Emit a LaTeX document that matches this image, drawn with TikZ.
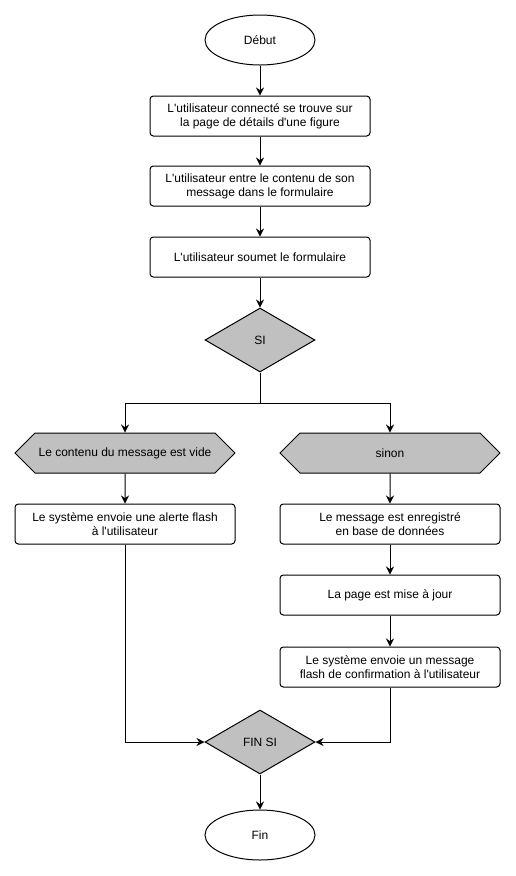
\documentclass[tikz,border=0pt]{standalone}
\usepackage{fontspec}
\setmainfont{Liberation Sans}[Ligatures=TeXOff]
\usetikzlibrary{shapes.geometric,shapes.symbols,arrows.meta}
\definecolor{grayfill}{HTML}{C0C0C0}
\tikzset{
  base/.style={draw=black, line width=0.75pt, font=\fontsize{9}{10.5}\selectfont, align=center, inner sep=0pt},
  term/.style={base, ellipse, fill=white, minimum width=82.5pt, minimum height=37.5pt},
  proc/.style={base, rectangle, rounded corners=2.5pt, fill=white, minimum width=165pt, minimum height=30pt},
  cond/.style={base, diamond, fill=grayfill, minimum width=82.5pt, minimum height=48pt},
  hexa/.style={base, signal, signal to=east and west, signal pointer angle=90, fill=grayfill, minimum width=165pt, minimum height=30pt},
  arr/.style={line width=0.75pt, -{Stealth[length=6pt,width=6pt,inset=2pt]}},
  lin/.style={line width=0.75pt}
}
\begin{document}
\begin{tikzpicture}[x=0.75pt,y=-0.75pt]
\useasboundingbox (0,0) rectangle (516,876);
\node[term] (start) at (260,40) {Début};
\node[proc] (b1) at (260,116) {L'utilisateur connecté se trouve sur\\la page de détails d'une figure};
\node[proc] (b2) at (260,186) {L'utilisateur entre le contenu de son\\message dans le formulaire};
\node[proc] (b3) at (260,257) {L'utilisateur soumet le formulaire};
\node[cond] (si) at (260,340) {SI};
\coordinate (br) at (260,403);
\node[hexa] (hl) at (125,453) {Le contenu du message est vide};
\node[hexa] (hr) at (390,453) {sinon};
\node[proc] (l1) at (125,524) {Le système envoie une alerte flash\\à l'utilisateur};
\node[proc] (r1) at (390,524) {Le message est enregistré\\en base de données};
\node[proc] (r2) at (390,595) {La page est mise à jour};
\node[proc] (r3) at (390,667) {Le système envoie un message\\flash de confirmation à l'utilisateur};
\node[cond] (finsi) at (260,742) {FIN SI};
\node[term] (fin) at (260,835) {Fin};
\draw[arr] (start) -- (b1);
\draw[arr] (b1) -- (b2);
\draw[arr] (b2) -- (b3);
\draw[arr] (b3) -- (si);
\draw[lin] (si.south) -- (br);
\draw[arr] (br) -| (hl.north);
\draw[arr] (br) -| (hr.north);
\draw[arr] (hl) -- (l1);
\draw[arr] (hr) -- (r1);
\draw[arr] (r1) -- (r2);
\draw[arr] (r2) -- (r3);
\draw[arr] (l1.south) |- (finsi.west);
\draw[arr] (r3.south) |- (finsi.east);
\draw[arr] (finsi) -- (fin);
\end{tikzpicture}
\end{document}
